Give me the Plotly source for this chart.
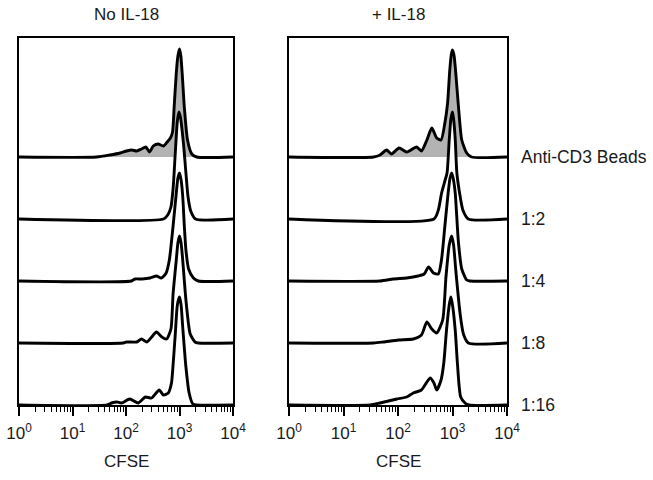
import plotly.graph_objects as go

# ---------------- data (log10 CFSE positions, histogram heights in counts) -------------
lane_labels = ["Anti-CD3 Beads", "1:2", "1:4", "1:8", "1:16"]
panel_titles = ["No IL-18", "+ IL-18"]
x_tick_labels = ["10<sup>0</sup>", "10<sup>1</sup>", "10<sup>2</sup>", "10<sup>3</sup>", "10<sup>4</sup>"]
lane_gap = 62  # vertical offset between stacked histograms (counts)

# No IL-18 panel
noil_beads_L = [0, 1.45, 1.70, 1.89, 2.01, 2.11, 2.20, 2.29, 2.37, 2.44, 2.51, 2.60, 2.70, 2.77, 2.83, 2.87, 2.90, 2.94, 2.97, 3.00, 3.025, 3.05, 3.09, 3.15, 3.23, 3.32, 4]
noil_beads_h = [0, 0, 2, 4, 6, 7, 6, 8, 10, 5, 11, 13, 11, 15, 19, 25, 50, 84, 101, 108, 101, 84, 50, 17, 3, 0, 0]
noil_r2_L = [0, 2.70, 2.78, 2.84, 2.88, 2.92, 2.96, 2.99, 3.02, 3.05, 3.08, 3.12, 3.16, 3.21, 3.30, 4]
noil_r2_h = [0, 0, 4, 12, 30, 65, 98, 107, 101, 88, 72, 46, 22, 8, 0, 0]
noil_r4_L = [0, 2.10, 2.17, 2.30, 2.45, 2.57, 2.66, 2.75, 2.81, 2.88, 2.94, 2.97, 3.00, 3.03, 3.06, 3.09, 3.12, 3.17, 3.26, 3.35, 4]
noil_r4_h = [0, 0, 2, 2, 3, 5, 3, 8, 21, 55, 88, 103, 108, 101, 85, 55, 31, 12, 3, 0, 0]
noil_r8_L = [0, 1.95, 2.01, 2.20, 2.29, 2.39, 2.48, 2.57, 2.67, 2.76, 2.84, 2.88, 2.94, 2.97, 3.00, 3.03, 3.06, 3.12, 3.20, 3.29, 3.35, 4]
noil_r8_h = [0, 0, 1, 1, 4, 1, 6, 11, 6, 4, 14, 49, 83, 100, 107, 100, 83, 43, 9, 1, 0, 0]
noil_r16_L = [0, 1.64, 1.73, 1.83, 1.92, 2.07, 2.23, 2.36, 2.48, 2.62, 2.70, 2.79, 2.85, 2.88, 2.92, 2.96, 3.00, 3.03, 3.06, 3.12, 3.18, 3.25, 3.32, 4]
noil_r16_h = [0, 0, 2, 3, 2, 6, 2, 8, 7, 15, 10, 12, 22, 40, 70, 100, 108, 100, 78, 38, 12, 1, 0, 0]

# + IL-18 panel
il_beads_L = [0, 1.55, 1.67, 1.79, 1.88, 2.02, 2.16, 2.34, 2.43, 2.53, 2.62, 2.71, 2.79, 2.86, 2.91, 2.95, 2.98, 3.00, 3.03, 3.06, 3.11, 3.17, 3.26, 3.35, 4]
il_beads_h = [0, 0, 2, 7, 3, 9, 5, 10, 6, 17, 29, 19, 17, 34, 54, 87, 103, 107, 101, 84, 50, 17, 4, 0, 0]
il_r2_L = [0, 2.66, 2.74, 2.80, 2.86, 2.90, 2.94, 2.97, 3.00, 3.02, 3.05, 3.08, 3.13, 3.19, 3.29, 4]
il_r2_h = [0, 0, 9, 26, 38, 46, 79, 100, 107, 100, 80, 46, 26, 9, 0, 0]
il_r4_L = [0, 1.67, 1.91, 2.16, 2.37, 2.48, 2.56, 2.65, 2.74, 2.80, 2.86, 2.92, 2.955, 2.985, 3.015, 3.05, 3.11, 3.17, 3.26, 3.32, 4]
il_r4_h = [0, 0, 2, 3, 5, 7, 14, 8, 7, 22, 55, 88, 103, 108, 102, 88, 38, 12, 1, 0, 0]
il_r8_L = [0, 1.55, 1.73, 2.01, 2.28, 2.43, 2.53, 2.62, 2.71, 2.82, 2.88, 2.94, 2.985, 3.02, 3.06, 3.14, 3.20, 3.29, 4]
il_r8_h = [0, 0, 1, 3, 4, 8, 21, 14, 10, 23, 66, 98, 107, 98, 73, 29, 9, 0, 0]
il_r16_L = [0, 1.49, 1.67, 1.98, 2.16, 2.28, 2.43, 2.59, 2.66, 2.71, 2.79, 2.84, 2.89, 2.94, 2.97, 3.00, 3.05, 3.09, 3.15, 3.23, 3.30, 4]
il_r16_h = [0, 0, 2, 6, 8, 12, 15, 27, 22, 15, 25, 42, 75, 100, 108, 100, 75, 42, 8, 2, 0, 0]

panels = [
    [(noil_beads_L, noil_beads_h), (noil_r2_L, noil_r2_h), (noil_r4_L, noil_r4_h),
     (noil_r8_L, noil_r8_h), (noil_r16_L, noil_r16_h)],
    [(il_beads_L, il_beads_h), (il_r2_L, il_r2_h), (il_r4_L, il_r4_h),
     (il_r8_L, il_r8_h), (il_r16_L, il_r16_h)],
]

# ---------------- figure -------------
W, H = 653, 480
FONT = "Liberation Sans, Arial, sans-serif"
TXT = "#1a1a1a"
fig = go.Figure()

n_lanes = len(lane_labels)
for p, lanes in enumerate(panels):
    xa = "x" if p == 0 else "x2"
    ya = "y" if p == 0 else "y2"
    for i, (L, h) in enumerate(lanes):
        off = (n_lanes - 1 - i) * lane_gap
        fig.add_trace(go.Scatter(
            x=[10 ** v for v in L], y=[off + v for v in h],
            mode="lines", line=dict(color="black", width=2.9, shape="spline", smoothing=0.6),
            fill="toself", fillcolor="#b3b3b3" if i == 0 else "white",
            xaxis=xa, yaxis=ya, showlegend=False, hoverinfo="skip"))

ymax = 367
minor_vals = [m * 10 ** e for e in range(0, 4) for m in range(2, 10)]
x_domains = [[19 / W, 233 / W], [289 / W, 507 / W]]
ydom = [1 - 405 / H, 1 - 38 / H]

for p in range(2):
    sfx = "" if p == 0 else "2"
    fig.update_layout(**{
        "xaxis" + sfx: dict(
            type="log", range=[0, 4], domain=x_domains[p], anchor="y" + sfx,
            showline=True, linecolor="black", linewidth=2, mirror=True,
            ticks="outside", ticklen=9, tickwidth=1.5, tickcolor="black",
            tickvals=[1, 10, 100, 1000, 10000], ticktext=x_tick_labels,
            tickfont=dict(family=FONT, size=17, color=TXT), ticklabelstandoff=3,
            minor=dict(ticks="outside", ticklen=5, tickwidth=1, tickcolor="black",
                       tickvals=minor_vals, showgrid=False),
            showgrid=False, zeroline=False, automargin=False, fixedrange=True),
        "yaxis" + sfx: dict(
            range=[0, ymax], domain=ydom, anchor="x" + sfx,
            showline=True, linecolor="black", linewidth=2, mirror=True,
            ticks="", showticklabels=False, showgrid=False, zeroline=False,
            automargin=False, fixedrange=True),
    })

annotations = []
centers = [126, 398]
for p in range(2):
    annotations.append(dict(text=panel_titles[p], x=centers[p] / W, y=1 - 14 / H,
                            xref="paper", yref="paper", xanchor="center", yanchor="middle",
                            showarrow=False, font=dict(family=FONT, size=17, color=TXT)))
    annotations.append(dict(text="CFSE", x=centers[p] / W, y=1 - 461 / H,
                            xref="paper", yref="paper", xanchor="center", yanchor="middle",
                            showarrow=False, font=dict(family=FONT, size=17, color=TXT)))
for i, lab in enumerate(lane_labels):
    annotations.append(dict(text=lab, x=519 / W, y=(n_lanes - 1 - i) * lane_gap,
                            xref="paper", yref="y2", xanchor="left", yanchor="middle",
                            showarrow=False, font=dict(family=FONT, size=17.5, color=TXT)))

fig.update_layout(
    width=W, height=H, margin=dict(l=0, r=0, t=0, b=0),
    paper_bgcolor="white", plot_bgcolor="white",
    annotations=annotations, showlegend=False,
)

fig.write_html("out.html", config={"displayModeBar": False},
               post_script="document.body.style.margin='0';document.body.style.overflow='hidden';")
